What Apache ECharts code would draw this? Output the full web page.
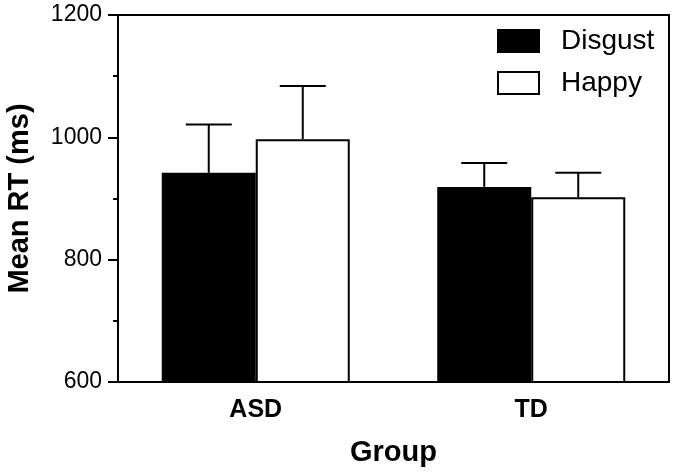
<!DOCTYPE html>
<html>
<head>
<meta charset="utf-8">
<script src="https://cdn.jsdelivr.net/npm/echarts@6/dist/echarts.min.js"></script>
<style>html,body{margin:0;padding:0;background:#fff;}#c{width:675px;height:473px;}</style>
</head>
<body>
<div id="c"></div>
<script>
var categories = ['ASD', 'TD'];
var disgustMean = [942, 919];
var disgustErr = [1021, 958];
var happyMean = [997, 902];
var happyErr = [1084, 942];
var yTicks = [600, 800, 1000, 1200];

var FONT = '"Liberation Sans", Arial, sans-serif';
var BAR_W = 94;
var CAP_W = 46;

function errSeries(name, errTop, means, sign) {
  var data = means.map(function (m, i) { return [i, m, errTop[i]]; });
  return {
    type: 'custom',
    name: name + 'err',
    z: 1,
    silent: true,
    data: data,
    encode: { x: 0, y: [1, 2] },
    renderItem: function (params, api) {
      var i = api.value(0);
      var p0 = api.coord([i, api.value(1)]);
      var p1 = api.coord([i, api.value(2)]);
      var x = p0[0] + sign * BAR_W / 2;
      return {
        type: 'group',
        children: [
          { type: 'line', shape: { x1: x, y1: p0[1], x2: x, y2: p1[1] }, style: { stroke: '#000', lineWidth: 2 } },
          { type: 'line', shape: { x1: x - CAP_W / 2, y1: p1[1], x2: x + CAP_W / 2, y2: p1[1] }, style: { stroke: '#000', lineWidth: 2 } }
        ]
      };
    }
  };
}

var chart = echarts.init(document.getElementById('c'));
chart.setOption({
  animation: false,
  backgroundColor: '#fff',
  grid: { left: 118, right: 6, top: 15, bottom: 91, outerBoundsMode: 'none', containLabel: false, show: true, borderColor: '#000', borderWidth: 2, backgroundColor: 'transparent' },
  legend: {
    orient: 'vertical',
    left: 497,
    top: 27,
    padding: 0,
    itemWidth: 41,
    itemHeight: 22,
    itemGap: 14,
    icon: 'rect',
    data: ['Disgust', 'Happy'],
    textStyle: { fontFamily: FONT, fontSize: 28, color: '#000', padding: [0, 0, 0, 17] }
  },
  xAxis: {
    type: 'category',
    data: categories,
    name: 'Group',
    nameLocation: 'middle',
    nameGap: 56,
    nameTextStyle: { fontFamily: FONT, fontSize: 29, fontWeight: 'bold', color: '#000' },
    axisLine: { lineStyle: { color: '#000', width: 2 } },
    axisTick: { alignWithLabel: true, length: 11, lineStyle: { color: '#000', width: 2 } },
    axisLabel: { fontFamily: FONT, fontSize: 25, fontWeight: 'bold', color: '#000', margin: 16 }
  },
  yAxis: {
    type: 'value',
    min: yTicks[0],
    max: yTicks[yTicks.length - 1],
    interval: 200,
    name: 'Mean RT (ms)',
    nameLocation: 'middle',
    nameGap: 84,
    nameTextStyle: { fontFamily: FONT, fontSize: 29, fontWeight: 'bold', color: '#000' },
    axisLine: { show: true, lineStyle: { color: '#000', width: 2 } },
    axisTick: { show: true, length: 10, lineStyle: { color: '#000', width: 2 } },
    minorTick: { show: true, splitNumber: 2, length: 5, lineStyle: { color: '#000', width: 2 } },
    splitLine: { show: false },
    axisLabel: { fontFamily: FONT, fontSize: 23, color: '#000', margin: 16, formatter: function (v) { return String(v); } }
  },
  series: [
    {
      name: 'Disgust', type: 'bar', data: disgustMean, barWidth: BAR_W, barGap: '0%', z: 2,
      itemStyle: { color: '#000', borderColor: '#000', borderWidth: 2 }
    },
    {
      name: 'Happy', type: 'bar', data: happyMean, barWidth: BAR_W, barGap: '0%', z: 2,
      itemStyle: { color: '#fff', borderColor: '#000', borderWidth: 2 }
    },
    errSeries('Disgust', disgustErr, disgustMean, -1),
    errSeries('Happy', happyErr, happyMean, 1)
  ]
});
</script>
</body>
</html>
